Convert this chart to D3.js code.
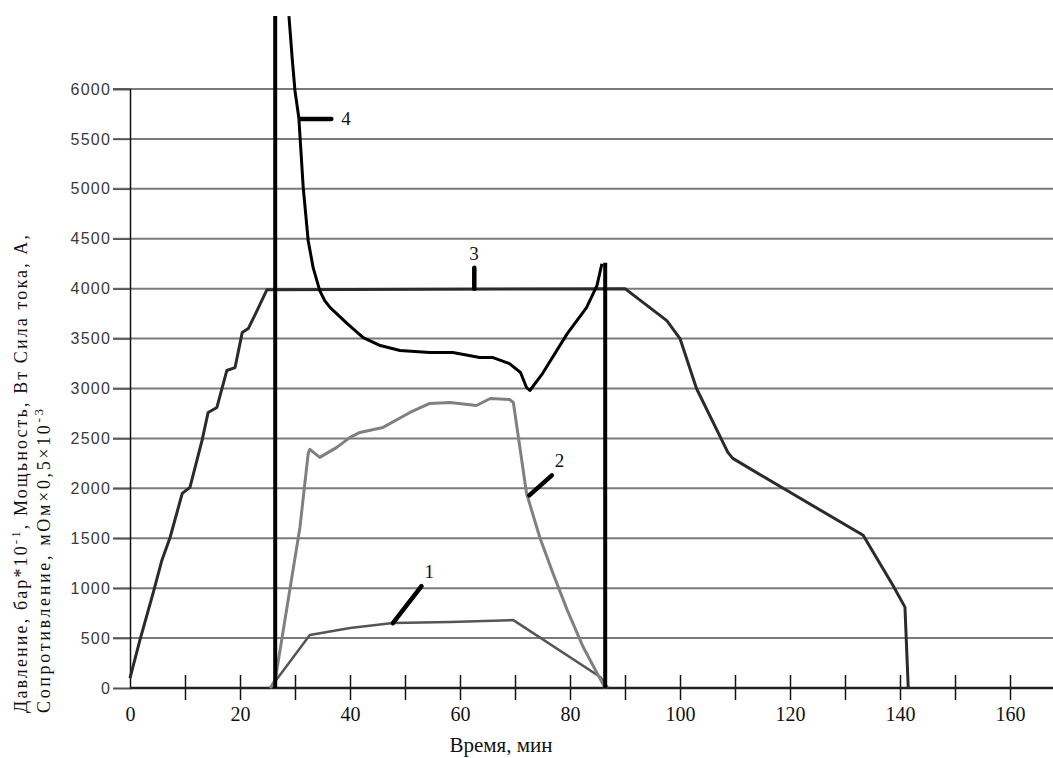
<!DOCTYPE html>
<html>
<head>
<meta charset="utf-8">
<script src="https://cdn.jsdelivr.net/npm/d3@7"></script>
<style>
  body { margin: 0; background: #fff; }
  svg { display: block; }
  .serif { font-family: "Liberation Serif", "DejaVu Serif", "Times New Roman", serif; }
</style>
</head>
<body>
<svg width="1053" height="758"></svg>
<script>
// time, min / value
var current = [[25.5,0],[32.7,530],[40,600],[47.8,650],[58.2,660],[69.7,680],[85.5,110],[86.9,0]];

var power = [[25.5,0],[26.4,80],[30.9,1610],[32.4,2350],[32.7,2390],[34.5,2310],[37.6,2410],[40,2510],
  [41.8,2560],[46,2610],[50.9,2760],[54.5,2850],[58.2,2860],[63,2830],[65.5,2900],[69,2890],[69.7,2860],
  [72.1,1950],[74.5,1510],[76.9,1150],[79.5,780],[82.4,410],[84.9,150],[86.4,0]];

var pressure = [[0,100],[1.8,480],[4.2,950],[5.8,1280],[7.3,1510],[9.5,1950],[10.9,2010],[13.1,2480],
  [14.2,2760],[15.8,2810],[17.6,3180],[19.1,3210],[20.4,3560],[21.5,3600],[23.1,3780],[24.9,3990],
  [90,4000],[97.6,3680],[100,3500],[103,3000],[108.7,2360],[109.6,2300],[120,1960],[133.3,1530],
  [138.7,1030],[140.9,810],[141.5,0]];

var resistance = [[28.9,6730],[29.5,6300],[30,5980],[30.7,5710],[31.5,5010],[32.4,4480],[33.3,4210],
  [34.5,3980],[35.4,3880],[36.4,3810],[39.5,3650],[42.4,3510],[45.5,3430],[49.1,3380],[54.5,3360],
  [58.7,3360],[63.6,3310],[66,3310],[69,3250],[71,3160],[72.1,3010],[72.7,2980],[75,3150],[79.5,3550],
  [83,3810],[84.9,4030],[85.8,4250]];

// vertical bars at start / end of the process
var verticals = [[26.4,6730],[86.4,4260]];

// curve labels: number, point on curve, end of leader
var labels = [
  {name:"1", from:[47.8,650], to:[53,1020]},
  {name:"2", from:[72.6,1930], to:[76.7,2130]},
  {name:"3", from:[62.6,4000], to:[62.6,4210]},
  {name:"4", from:[31.0,5700], to:[36.6,5700]}
];

var yTicks = d3.range(0, 6001, 500);
var xTicks = d3.range(0, 171, 10);

var svg = d3.select("svg");

var x = d3.scaleLinear().domain([0, 170]).range([130, 1065]);
var y = d3.scaleLinear().domain([0, 6000]).range([688, 89]);

// horizontal grid
svg.append("g")
  .selectAll("line")
  .data(yTicks.filter(function(d) { return d > 0; }))
  .enter().append("line")
  .attr("x1", 113).attr("x2", 1053)
  .attr("y1", function(d) { return y(d); })
  .attr("y2", function(d) { return y(d); })
  .attr("stroke", "#7a7a7a")
  .attr("stroke-width", 2);

// y axis
var yAxis = svg.append("g")
  .attr("transform", "translate(130,0)")
  .call(d3.axisLeft(y).tickValues(yTicks).tickSize(17).tickFormat(d3.format("d")))
  .attr("font-family", "'Liberation Sans', Arial, sans-serif")
  .attr("font-size", 16);
yAxis.select(".domain").attr("stroke", "#111").attr("stroke-width", 1.5);
yAxis.selectAll(".tick line").attr("stroke", "#555").attr("stroke-width", 1.5);
yAxis.selectAll(".tick text")
  .attr("x", -19)
  .attr("fill", "#3a3a3a")
  .style("letter-spacing", "1.2px");

// x axis
var xAxis = svg.append("g")
  .attr("transform", "translate(0," + y(0) + ")")
  .call(d3.axisBottom(x).tickValues(xTicks).tickSize(12)
    .tickFormat(function(d) { return d % 20 === 0 ? d : ""; }))
  .attr("font-family", null)
  .attr("font-size", 20)
  .attr("class", "serif");
xAxis.select(".domain").remove();
xAxis.append("line")
  .attr("x1", 130).attr("x2", 1053)
  .attr("stroke", "#222").attr("stroke-width", 2.5);
xAxis.selectAll(".tick line")
  .attr("y1", -13).attr("y2", 12)
  .attr("stroke", "#111").attr("stroke-width", 1.5)
  .filter(function(d) { return d === 0; }).remove();
xAxis.selectAll(".tick text")
  .attr("y", 19)
  .attr("fill", "#111");

var line = d3.line()
  .x(function(d) { return x(d[0]); })
  .y(function(d) { return y(d[1]); });

function curve(data, color, w) {
  svg.append("path")
    .datum(data)
    .attr("d", line)
    .attr("fill", "none")
    .attr("stroke", color)
    .attr("stroke-width", w)
    .attr("stroke-linejoin", "round");
}

curve(current, "#555", 2.5);
curve(power, "#808080", 3);
curve(pressure, "#2b2b2b", 3);
curve(resistance, "#000", 3);

svg.append("g")
  .selectAll("line")
  .data(verticals)
  .enter().append("line")
  .attr("x1", function(d) { return x(d[0]); })
  .attr("x2", function(d) { return x(d[0]); })
  .attr("y1", function(d) { return y(d[1]); })
  .attr("y2", y(0))
  .attr("stroke", "#000")
  .attr("stroke-width", 4);

// leaders and numbers
var lab = svg.append("g").attr("class", "serif");
lab.selectAll("line")
  .data(labels)
  .enter().append("line")
  .attr("x1", function(d) { return x(d.from[0]); })
  .attr("y1", function(d) { return y(d.from[1]); })
  .attr("x2", function(d) { return x(d.to[0]); })
  .attr("y2", function(d) { return y(d.to[1]); })
  .attr("stroke", "#000")
  .attr("stroke-width", 4.5)
  .attr("stroke-linecap", "round");
lab.selectAll("text")
  .data(labels)
  .enter().append("text")
  .attr("x", function(d) { return x(d.to[0]) + (d.name === "4" ? 10 : (d.name === "3" ? -5 : 3)); })
  .attr("y", function(d) { return y(d.to[1]) + (d.name === "4" ? 6 : -8); })
  .attr("fill", "#111")
  .attr("font-size", 19)
  .text(function(d) { return d.name; });

// axis titles
svg.append("text")
  .attr("class", "serif")
  .attr("x", 501).attr("y", 752)
  .attr("text-anchor", "middle")
  .attr("fill", "#111")
  .attr("font-size", 21)
  .text("Время, мин");

var yt = svg.append("g")
  .attr("class", "serif")
  .attr("font-size", 18)
  .attr("fill", "#111");

var t1 = yt.append("text").attr("transform", "translate(27,713) rotate(-90)")
  .attr("textLength", 478).attr("lengthAdjust", "spacing");
t1.append("tspan").text("Давление, бар*10");
t1.append("tspan").attr("dy", -7).attr("font-size", 13).text("-1");
t1.append("tspan").attr("dy", 7).text(", Мощьность, Вт  Сила тока, А,");

var t2 = yt.append("text").attr("transform", "translate(50,713) rotate(-90)")
  .attr("textLength", 304).attr("lengthAdjust", "spacing");
t2.append("tspan").text("Сопротивление, мОм×0,5×10");
t2.append("tspan").attr("dy", -7).attr("font-size", 13).text("-3");
</script>
</body>
</html>
